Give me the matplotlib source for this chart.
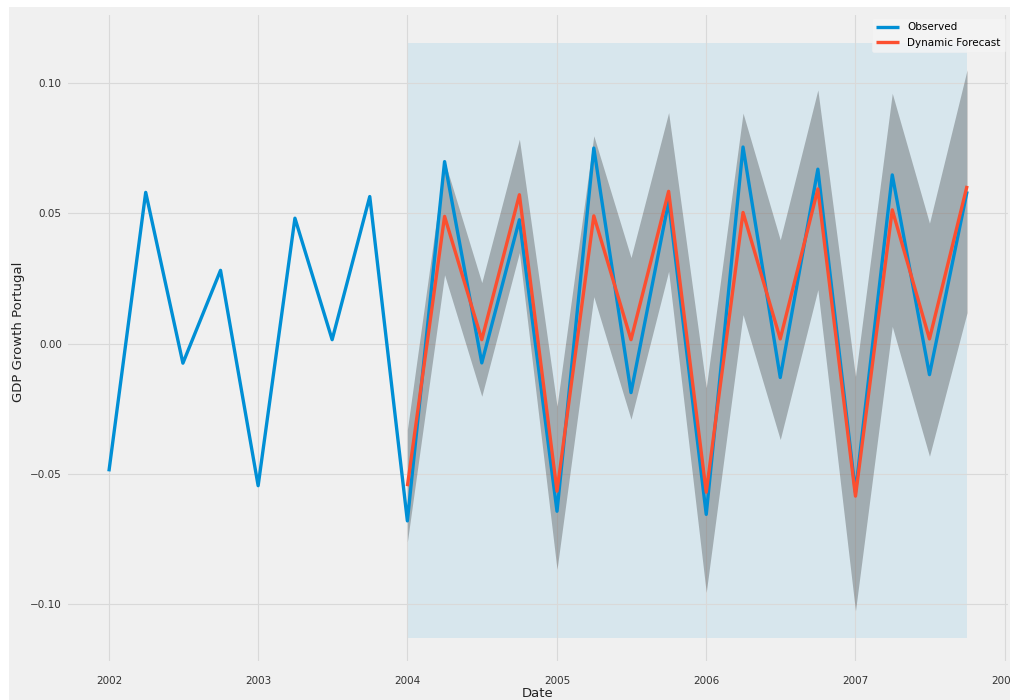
import matplotlib
matplotlib.use("Agg")
from matplotlib import pyplot as plt
from matplotlib.patches import Rectangle
import matplotlib.dates as mdates
import pandas as pd

# quarterly GDP growth
obs_dates = pd.date_range("2002-01-01", "2007-10-01", freq="QS")
observed  = [-0.0490, 0.0580, -0.0075, 0.0281, -0.0545, 0.0481, 0.0015, 0.0564,
             -0.0680, 0.0698, -0.0074, 0.0475, -0.0643, 0.0750, -0.0188, 0.0545,
             -0.0655, 0.0754, -0.0130, 0.0669, -0.0570, 0.0647, -0.0119, 0.0584]

fc_dates  = pd.date_range("2004-01-01", "2007-10-01", freq="QS")
forecast  = [-0.0547, 0.0488, 0.0015, 0.0571, -0.0566, 0.0490, 0.0015, 0.0584,
             -0.0570, 0.0503, 0.0018, 0.0593, -0.0585, 0.0513, 0.0018, 0.0605]
ci_lower  = [-0.0760, 0.0264, -0.0202, 0.0349, -0.0866, 0.0180, -0.0290, 0.0277,
             -0.0954, 0.0111, -0.0368, 0.0207, -0.1025, 0.0066, -0.0432, 0.0119]
ci_upper  = [-0.0330, 0.0700, 0.0234, 0.0784, -0.0240, 0.0797, 0.0330, 0.0886,
             -0.0169, 0.0884, 0.0398, 0.0973, -0.0126, 0.0960, 0.0462, 0.1050]

plt.style.use("fivethirtyeight")
plt.rcParams["font.family"] = ["DejaVu Sans"]

W, H = 1010, 700
fig = plt.figure(figsize=(W / 100, H / 100), dpi=100)
ax  = fig.add_axes([66 / W, (H - 663) / H, (W - 66) / W, 650 / H])

ax.plot(obs_dates, observed, color="#008fd5", lw=2.4, label="Observed")
ax.plot(fc_dates, forecast, color="#fc4f30", lw=2.4, label="Dynamic Forecast")
ax.fill_between(fc_dates, ci_lower, ci_upper, color="k", alpha=.25, lw=0)
ax.fill_betweenx(ax.get_ylim(), fc_dates[0], fc_dates[-1], color="#008fd5",
                 alpha=.1, zorder=-1, lw=0)
ax.set_ylim(-0.1225, 0.1268)

ax.xaxis.set_major_locator(mdates.YearLocator())
ax.xaxis.set_major_formatter(mdates.DateFormatter("%Y"))
ax.tick_params(axis="both", labelsize=7.5, colors="#333333")
ax.tick_params(axis="x", pad=9)
ax.tick_params(axis="y", pad=3)
ax.grid(True, color="#d9d9d9", lw=0.8)
ax.set_xlabel("Date", fontsize=9.5, labelpad=1, color="#222222")
ax.set_ylabel("GDP Growth Portugal", fontsize=9.5, color="#222222")
ax.yaxis.set_label_coords(-0.043, 0.51)

leg = ax.legend(loc="upper right", fontsize=7.5, handlelength=2.2)
leg.get_frame().set_facecolor("#f5f5f5")
leg.get_frame().set_edgecolor("#f0f0f0")

# white screenshot margins on the top and left
fig.patches.append(Rectangle((0, 1 - 7 / H), 1, 7 / H, transform=fig.transFigure,
                             facecolor="white", edgecolor="none", zorder=-5))
fig.patches.append(Rectangle((0, 0), 9 / W, 1, transform=fig.transFigure,
                             facecolor="white", edgecolor="none", zorder=-5))

fig.savefig("out.png", dpi=100, facecolor="#f0f0f0")
